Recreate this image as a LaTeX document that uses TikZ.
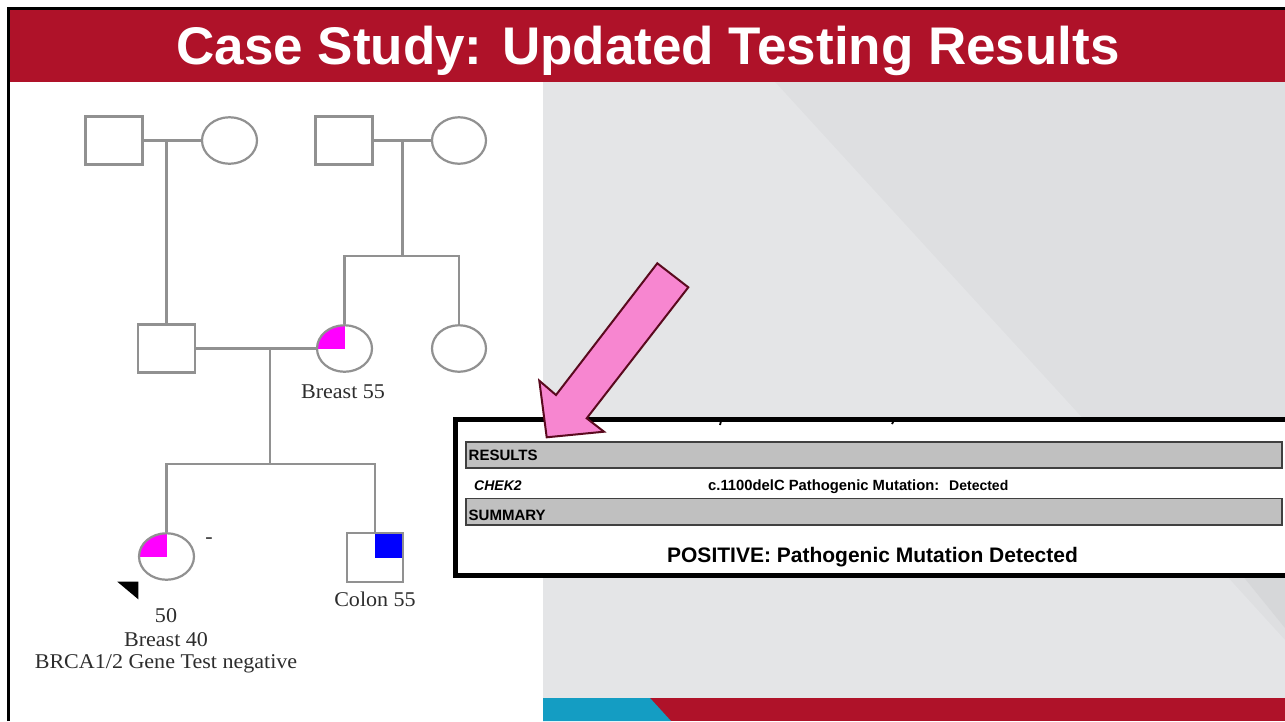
\documentclass[tikz,border=0pt]{standalone}
\usepackage{fontspec}
\setmainfont{Liberation Serif}
\setsansfont{Liberation Sans}
\newfontfamily\pedfont[FakeStretch=1.05]{Liberation Serif}
\usetikzlibrary{shapes.geometric}
\definecolor{titlered}{RGB}{175,18,41}
\definecolor{panelgray}{RGB}{222,223,225}
\definecolor{panellight}{RGB}{228,229,231}
\definecolor{paneldark}{RGB}{214,215,217}
\definecolor{bandcyan}{RGB}{20,157,195}
\definecolor{pedgray}{RGB}{145,145,145}
\definecolor{textgray}{RGB}{45,45,45}
\definecolor{arrowpink}{RGB}{247,134,208}
\definecolor{arrowedge}{RGB}{90,10,30}
\definecolor{bargray}{RGB}{192,192,192}
\definecolor{affpink}{RGB}{255,0,255}
\definecolor{affblue}{RGB}{0,0,255}
\begin{document}
\begin{tikzpicture}[x=1pt,y=-1pt,
  pedline/.style={draw=pedgray, line width=2.2pt},
  male/.style={rectangle, draw=pedgray, line width=2.2pt, fill=white,
    minimum width=57pt, minimum height=48pt, inner sep=0pt},
  female/.style={ellipse, draw=pedgray, line width=2.2pt, fill=white,
    minimum width=55pt, minimum height=46.5pt, inner sep=0pt},
  pinkquarter/.style={path picture={\fill[affpink] (path picture bounding box.center) rectangle (path picture bounding box.north west);}},
  bluequarter/.style={path picture={\fill[affblue] (path picture bounding box.center) rectangle (path picture bounding box.north east);}},
  pedtext/.style={font=\pedfont\fontsize{21}{24}\selectfont, text=textgray, anchor=base, inner sep=0pt},
  reptext/.style={font=\sffamily\bfseries\fontsize{14}{16}\selectfont, anchor=base west, inner sep=0pt},
  bartext/.style={font=\sffamily\bfseries\fontsize{15}{17}\selectfont, anchor=base west, inner sep=0pt},
  graybar/.style={fill=bargray, draw=black!75, line width=1.3pt}
]
\useasboundingbox (0,0) rectangle (1285,721);
\clip (0,0) rectangle (1285,721);
% page background
\fill[white] (0,0) rectangle (1285,721);
% right panel
\fill[panelgray] (543,82) rectangle (1285,698);
\fill[panellight] (543,82) -- (775,82) -- (1130,470) -- (1285,640) -- (1285,698) -- (543,698) -- cycle;
\fill[paneldark] (1242,575) -- (1285,575) -- (1285,628) -- cycle;
% bottom band
\fill[titlered] (543,698) rectangle (1285,721);
\fill[bandcyan] (543,698) -- (650,698) -- (671,721) -- (543,721) -- cycle;
% title bar
\fill[titlered] (9,9) rectangle (1285,82);
\draw[black, line width=3pt] (8.5,721) -- (8.5,8.5) -- (1285,8.5);
\node[font=\sffamily\bfseries\fontsize{53}{60}\selectfont, text=white, anchor=base, inner sep=0pt]
  (title) at (648,64) {Case Study: Updated Testing Results};

% ---------- pedigree ----------
\node[male] (gf1) at (114,140.5) {};
\node[female] (gm1) at (229.5,140.5) {};
\node[male] (gf2) at (344,140.5) {};
\node[female, minimum width=54pt] (gm2) at (459,140.5) {};
\node[male] (father) at (166.5,348.5) {};
\node[female, pinkquarter] (mother) at (344.5,348.5) {};
\node[female, minimum width=54pt] (aunt) at (459,348.5) {};
\node[female, pinkquarter] (proband) at (166.5,556.5) {};
\node[male, minimum width=56pt, minimum height=49pt, bluequarter] (brother) at (375,557.5) {};

\coordinate (m1) at (166.5,140.5);
\coordinate (m2) at (402.5,140.5);
\coordinate (m3) at (270,348.5);
\coordinate (s1) at (402.5,256);
\coordinate (s2) at (270,464);

\draw[pedline] (gf1.east) -- (gm1.west);
\draw[pedline] (m1) -- (father.north);
\draw[pedline] (gf2.east) -- (gm2.west);
\draw[pedline] (m2) -- (s1);
\draw[pedline] (mother.north) -- (mother.north |- s1) -- (aunt.north |- s1) -- (aunt.north);
\draw[pedline] (father.east) -- (mother.west);
\draw[pedline] (m3) -- (s2);
\draw[pedline] (proband.north) -- (proband.north |- s2) -- (brother.north |- s2) -- (brother.north);

% proband arrow
\fill[black] (117.3,581.7) -- (138.3,581.7) -- (138.3,599.3) -- cycle;

% pedigree labels
\node[pedtext] (l1) at (343,398) {Breast 55};
\node[pedtext] (l2) at (209,543) {-};
\node[pedtext] (l3) at (166,622.5) {50};
\node[pedtext] (l4) at (166,646) {Breast 40};
\node[pedtext] (l5) at (166,668.3) {BRCA1/2 Gene Test negative};
\node[pedtext] (l6) at (375,606.5) {Colon 55};

% ---------- report box ----------
\draw[fill=white, draw=black, line width=5pt] (455,419) rectangle (1300,575.5);
\draw[black, line width=1.8pt] (721,421) -- (720,425);
\draw[black, line width=1.8pt] (894,420) -- (892,424);
\fill[graybar] (466,442) rectangle (1282,468);
\fill[graybar] (466,498.5) rectangle (1282,525);
\node[bartext] (res) at (468.5,460.5) {RESULTS};
\node[reptext, font=\sffamily\bfseries\itshape\fontsize{14}{16}\selectfont] (gene) at (474,490) {CHEK2};
\node[reptext, font=\sffamily\bfseries\fontsize{14.8}{16}\selectfont] (mut) at (708,490) {c.1100delC Pathogenic Mutation:};
\node[reptext] (det) at (949,490) {Detected};
\node[bartext] (sum) at (468.5,520.5) {SUMMARY};
\node[font=\sffamily\bfseries\fontsize{21}{24}\selectfont, anchor=base, inner sep=0pt]
  (pos) at (872.5,562.5) {POSITIVE: Pathogenic Mutation Detected};

% ---------- pink block arrow ----------
\draw[fill=arrowpink, draw=arrowedge, line width=2pt, line join=miter]
  (657.3,263.3) -- (688.3,287.3) -- (586.7,418.3) -- (604,431.7) -- (546.7,437.3)
  -- (539.3,380.7) -- (556,395) -- cycle;
\end{tikzpicture}
\end{document}
